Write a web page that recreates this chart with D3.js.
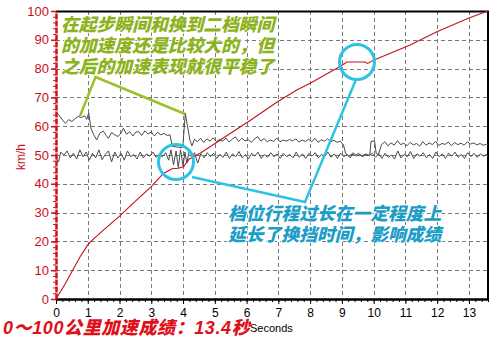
<!DOCTYPE html>
<html>
<head>
<meta charset="utf-8">
<script src="https://cdn.jsdelivr.net/npm/d3@7"></script>
<style>
  html, body { margin: 0; padding: 0; background: #fff; }
  svg { display: block; }
</style>
</head>
<body>
<svg id="chart" width="500" height="341"></svg>
<script>
// Speed vs. time, 0–100 km/h acceleration run
const xTicks = [0,1,2,3,4,5,6,7,8,9,10,11,12,13];
const yTicks = [0,10,20,30,40,50,60,70,80,90,100];

// speed curve [seconds, km/h]
const speed = [
  [0,0],[0.3,5.5],[0.55,10.5],[0.75,14.5],[1.0,18.8],[1.1,20],[1.5,24],[2.0,28.8],
  [2.5,34],[3.0,39],[3.38,43.6],[3.65,45.2],[3.85,45.4],[4.01,45.9],[4.2,48.6],
  [4.32,49.4],[4.54,50.6],[5.17,55.2],[6.11,62],[6.95,68.3],[7.58,72.6],[8.0,74.9],
  [8.94,80.7],[9.16,82.3],[9.73,82.3],[9.81,81.8],[10.05,83.2],[11.15,88.2],
  [11.99,92.8],[13.0,97.6],[13.6,100]
];

// upper gray trace [seconds, value]
const traceUpper = [
  [0,65],[0.1,63.8],[0.2,62.2],[0.3,61],[0.4,62.3],[0.5,61.6],[0.6,62.6],[0.7,63.4],
  [0.8,63],[0.9,63.6],[0.97,62.4],[1.03,64.6],[1.1,59.3],[1.18,57.2],[1.28,55.2],
  [1.38,57.6],[1.49,58.3],[1.58,56.8],[1.65,55.8],[1.75,57.8],[1.85,57],[1.95,56.4],
  [2.05,57.6],[2.12,59.3],[2.22,57.2],[2.32,58.1],[2.42,56.6],[2.52,58],[2.6,58.1],
  [2.7,56.8],[2.8,58.4],[2.9,57.3],[3.0,58],[3.1,56.6],[3.2,57.9],[3.3,57],[3.4,57.5],
  [3.5,56.8],[3.59,57],[3.66,53],[3.8,52.8],[3.96,52.5],[4.0,54],[4.07,64.5],
  [4.14,60],[4.22,55],[4.28,53.2],[4.36,55.5],[4.45,54.6],[4.55,55.8],[4.65,54.4],
  [4.75,55.6],[4.85,54.8],[4.95,56],[5.05,54.6],[5.15,55.4],[5.25,54.8],[5.35,55.9],
  [5.45,54.5],[5.55,55.5],[5.65,56.3],[5.75,54.7],[5.85,55.8],[5.95,54.9],[6.05,55.3],
  [6.15,54.4],[6.25,55.6],[6.35,56.4],[6.45,54.8],[6.55,55.7],[6.65,54.6],[6.75,55.2],
  [6.85,54.7],[6.95,55.9],[7.05,54.6],[7.15,55.2],[7.25,54.8],[7.35,55.4],[7.45,54.9],
  [7.55,55.6],[7.65,54.5],[7.75,55.2],[7.85,54.7],[7.95,55.5],[8.05,54.6],[8.15,55.8],
  [8.25,54.4],[8.35,55.3],[8.45,54.8],[8.55,55.6],[8.65,54.6],[8.75,55.1],[8.85,54.4],
  [8.95,54.8],[9.05,53.5],[9.12,50.5],[9.22,49.6],[9.32,50.4],[9.42,49.8],[9.52,50.6],
  [9.62,49.7],[9.72,50.2],[9.82,49.8],[9.88,50.1],[9.92,54.8],[10.03,54.8],[10.08,50.5],
  [10.15,50.2],[10.25,53.6],[10.35,54.6],[10.45,53.2],[10.55,54.2],[10.65,53.4],
  [10.75,55],[10.85,53.6],[10.95,54.1],[11.05,53.2],[11.15,54.4],[11.25,53.5],
  [11.35,54],[11.45,53.1],[11.55,54.6],[11.65,53.4],[11.75,54.2],[11.85,53.6],
  [11.95,54.8],[12.05,53.3],[12.15,54],[12.25,53.7],[12.35,54.5],[12.45,53.2],
  [12.55,54.3],[12.65,53.6],[12.75,54.1],[12.85,53.4],[12.95,54.6],[13.05,53.8],
  [13.15,54.2],[13.25,53.5],[13.35,54],[13.45,53.4],[13.55,53.7],[13.6,53.5]
];

// lower gray trace [seconds, value]
const traceLower = [
  [0,49],[0.08,47.6],[0.15,51],[0.25,50],[0.35,51.4],[0.45,49],[0.55,50.6],[0.65,48.6],
  [0.75,51.8],[0.85,49.4],[0.95,51],[1.05,48.2],[1.15,50.6],[1.25,49],[1.35,51.8],
  [1.45,48.4],[1.55,50.2],[1.65,51.4],[1.75,47.6],[1.85,51],[1.95,49],[2.05,50.6],
  [2.15,48.2],[2.25,51.4],[2.35,49.4],[2.45,50.2],[2.55,48.6],[2.65,51],[2.75,49],
  [2.85,50.4],[2.95,49.6],[3.05,51],[3.15,49.2],[3.25,50.2],[3.35,49.4],[3.45,50.8],
  [3.55,48.2],[3.62,51.8],[3.7,46.6],[3.78,51.4],[3.85,45.6],[3.92,51.8],[4.0,46.2],
  [4.06,51],[4.12,47.2],[4.2,51.8],[4.28,49],[4.36,50.8],[4.46,47.2],[4.56,50.4],
  [4.66,49],[4.76,50.8],[4.86,49.4],[4.96,50.6],[5.06,48.8],[5.16,50.2],[5.26,49.2],
  [5.36,51],[5.46,48.8],[5.56,50.4],[5.66,49.4],[5.76,51.2],[5.86,49],[5.96,50.2],
  [6.06,48.6],[6.16,50.6],[6.26,49.6],[6.36,51],[6.46,48.8],[6.56,50.2],[6.66,49.2],
  [6.76,50.8],[6.86,49.4],[6.96,50.4],[7.06,48.8],[7.16,50.6],[7.26,49.4],[7.36,50.2],
  [7.46,49],[7.56,51],[7.66,49.2],[7.76,50.4],[7.86,48.8],[7.96,50.6],[8.06,49.6],
  [8.16,50.8],[8.26,49],[8.36,50.2],[8.46,49.4],[8.56,51],[8.66,49.2],[8.76,50.4],
  [8.86,48.8],[8.96,50.6],[9.06,49.4],[9.16,50.2],[9.26,49],[9.36,50.8],[9.46,49.6],
  [9.56,50.2],[9.66,49.4],[9.76,50.4],[9.86,49.8],[9.96,50.6],[10.06,49.2],[10.16,50.4],
  [10.26,48.8],[10.36,50.6],[10.46,49.2],[10.56,50],[10.66,48.6],[10.76,51.4],
  [10.86,49],[10.96,50.2],[11.06,49.4],[11.16,51.2],[11.26,48.8],[11.36,50.4],
  [11.46,49.6],[11.56,50.8],[11.66,49],[11.76,50.2],[11.86,48.8],[11.96,51],[12.06,49.4],
  [12.16,50.4],[12.26,48.8],[12.36,50.6],[12.46,49.6],[12.56,51],[12.66,49.2],
  [12.76,50.2],[12.86,48.8],[12.96,50.8],[13.06,49.4],[13.16,50.6],[13.26,49.2],
  [13.36,50.4],[13.46,49.6],[13.56,50.2],[13.6,49.4]
];

const greenNote = ["在起步瞬间和换到二档瞬间", "的加速度还是比较大的，但", "之后的加速表现就很平稳了"];
const cyanNote = ["档位行程过长在一定程度上", "延长了换挡时间，影响成绩"];
const resultText = "0～100公里加速成绩：13.4秒";
const xTitle = "Seconds";
const yTitle = "km/h";

const svg = d3.select("#chart");
const plotL = 56, plotR = 488, plotT = 11, plotB = 299;
const x = d3.scaleLinear().domain([0, 13.6]).range([plotL, plotR]);
const y = d3.scaleLinear().domain([0, 100]).range([plotB, plotT]);

// dashed grid
const grid = svg.append("g").attr("stroke", "#7a7a7a").attr("stroke-width", 1)
  .attr("stroke-dasharray", "4,3").attr("shape-rendering", "crispEdges");
grid.selectAll("line.v").data(xTicks.filter(d => d > 0)).join("line")
  .attr("class", "v")
  .attr("x1", d => Math.round(x(d)) + 0.5).attr("x2", d => Math.round(x(d)) + 0.5)
  .attr("y1", plotT).attr("y2", plotB);
grid.selectAll("line.h").data(yTicks.filter(d => d > 0 && d < 100)).join("line")
  .attr("class", "h")
  .attr("x1", plotL).attr("x2", plotR)
  .attr("y1", d => Math.round(y(d)) + 0.5).attr("y2", d => Math.round(y(d)) + 0.5);

// frame: top and right edges
svg.append("path")
  .attr("d", `M${plotL},${plotT + 0.5}H${plotR}V${plotB}`)
  .attr("fill", "none").attr("stroke", "#000").attr("stroke-width", 2);

// traces
const line = d3.line().x(d => x(d[0])).y(d => y(d[1]));
svg.append("path").datum(traceLower).attr("d", line)
  .attr("fill", "none").attr("stroke", "#4a4a4a").attr("stroke-width", 1);
svg.append("path").datum(traceUpper).attr("d", line)
  .attr("fill", "none").attr("stroke", "#4a4a4a").attr("stroke-width", 1);
svg.append("path").datum(speed).attr("d", line)
  .attr("fill", "none").attr("stroke", "#c4101c").attr("stroke-width", 1.1);

// x axis: minor ticks then major ticks and labels
const xMinor = svg.append("g").attr("transform", `translate(0,${plotB})`)
  .call(d3.axisBottom(x).tickValues(d3.range(0, 13.61, 0.2)).tickSize(3).tickFormat(""));
xMinor.select(".domain").remove();
const xAxis = svg.append("g").attr("transform", `translate(0,${plotB})`)
  .call(d3.axisBottom(x).tickValues(xTicks).tickSize(5).tickPadding(4).tickSizeOuter(0));
xAxis.select(".domain").attr("stroke", "#000").attr("stroke-width", 2.5);
xAxis.selectAll("text").attr("font-family", "Liberation Sans, Arial, sans-serif")
  .attr("font-size", 12).attr("fill", "#000");

// y axis in red
const yMinor = svg.append("g").attr("transform", `translate(${plotL},0)`)
  .call(d3.axisLeft(y).tickValues(d3.range(0, 100.1, 2)).tickSize(3).tickFormat(""));
yMinor.select(".domain").remove();
yMinor.selectAll("line").attr("stroke", "#d0101a");
const yAxis = svg.append("g").attr("transform", `translate(${plotL},0)`)
  .call(d3.axisLeft(y).tickValues(yTicks).tickSize(5).tickPadding(2).tickSizeOuter(0));
yAxis.select(".domain").attr("stroke", "#d0101a").attr("stroke-width", 2.5)
  .attr("stroke-dasharray", "6,1");
yAxis.selectAll("line").attr("stroke", "#d0101a").attr("stroke-width", 1.5);
yAxis.selectAll("text").attr("font-family", "Liberation Sans, Arial, sans-serif")
  .attr("font-size", 13).attr("fill", "#c8101a");

// axis titles
svg.append("text").text(yTitle)
  .attr("transform", `translate(25,157) rotate(-90)`).attr("text-anchor", "middle")
  .attr("font-family", "Liberation Sans, Arial, sans-serif").attr("font-size", 12)
  .attr("fill", "#c8101a");
svg.append("text").text(xTitle).attr("x", 250).attr("y", 332)
  .attr("font-family", "Liberation Sans, Arial, sans-serif").attr("font-size", 11)
  .attr("fill", "#000");

const cjk = "'Noto Sans CJK SC', 'Noto Sans CJK JP', sans-serif";

// multi-line note as one text block
function note(lines, x0, y0, color) {
  const t = svg.append("text")
    .attr("font-family", cjk).attr("font-weight", 900).attr("font-style", "italic")
    .attr("font-size", 17.8).attr("fill", color)
    .attr("stroke", "#fff").attr("stroke-width", 2).attr("paint-order", "stroke");
  t.selectAll("tspan").data(lines).join("tspan")
    .attr("x", x0).attr("y", (d, i) => y0 + i * 21).text(d => d);
}

// green callout
svg.append("polyline")
  .attr("points", [[80, 116], [95.5, 77], [185, 114]].map(p => p.join(",")).join(" "))
  .attr("fill", "none").attr("stroke", "#9cc22a").attr("stroke-width", 2.5);
note(greenNote, 61, 31, "#8cb21e");

// cyan callout
const cyan = "#2ec3e4";
svg.append("circle").attr("cx", 176).attr("cy", 162).attr("r", 17.5)
  .attr("fill", "none").attr("stroke", cyan).attr("stroke-width", 3);
svg.append("circle").attr("cx", 357).attr("cy", 62).attr("r", 17.5)
  .attr("fill", "none").attr("stroke", cyan).attr("stroke-width", 3);
svg.append("polyline")
  .attr("points", [[192, 177], [305, 202], [356, 79.5]].map(p => p.join(",")).join(" "))
  .attr("fill", "none").attr("stroke", cyan).attr("stroke-width", 2.5);
note(cyanNote, 228, 220, "#1b9dc6");

// result caption: Latin digits in a sans face, CJK falls back
svg.append("text").text(resultText).attr("x", 3).attr("y", 334)
  .attr("font-family", "'Liberation Sans', " + cjk).attr("font-weight", 900)
  .attr("font-style", "italic").attr("font-size", 18).attr("letter-spacing", 0.6)
  .attr("fill", "#e0101a");
</script>
</body>
</html>
